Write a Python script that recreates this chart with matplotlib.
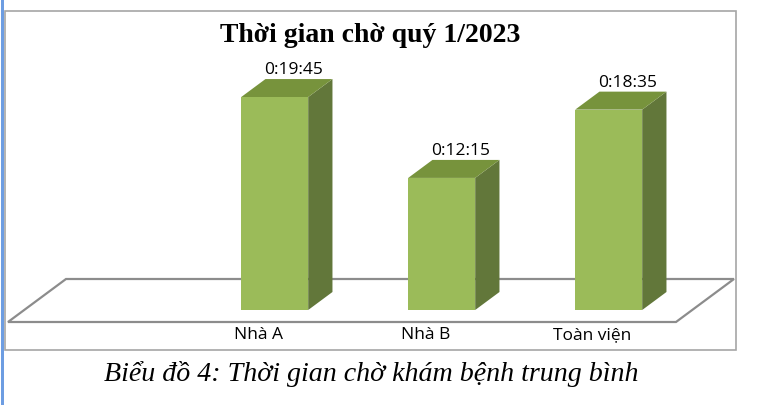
import matplotlib.pyplot as plt
from matplotlib.patches import Polygon, Rectangle

# data
categories = ['', 'Nhà A', 'Nhà B', 'Toàn viện']
values = [None, '0:19:45', '0:12:15', '0:18:35']
title = 'Thời gian chờ quý 1/2023'
caption = 'Biểu đồ 4: Thời gian chờ khám bệnh trung bình'


def to_sec(t):
    h, m, s = [int(p) for p in t.split(':')]
    return h * 3600 + m * 60 + s


W, H = 763, 405
fig = plt.figure(figsize=(W / 100, H / 100), dpi=100)

# axes covering the whole figure; x = category slot, y = seconds
ax = fig.add_axes([0, 0, 1, 1])
px_per_cat = 167.0
x0_px = 91.5            # centre of slot 0 on the floor's front edge
px_per_sec = 0.1797
base_px = 310           # pixel row (from top) of value 0
ax.set_xlim((0 - x0_px) / px_per_cat, (W - x0_px) / px_per_cat)
ax.set_ylim((base_px - H) / px_per_sec, base_px / px_per_sec)
ax.axis('off')

# oblique depth offsets, converted to data units
dx = 58 / px_per_cat        # full floor depth, x
dy = 43 / px_per_sec        # full floor depth, y
d_front, d_back = 12 / 43, 30 / 43
bar_w = 67 / px_per_cat
floor_front = -12 / px_per_sec

n = len(categories)
floor = Polygon([(-0.5, floor_front), (n - 0.5, floor_front),
                 (n - 0.5 + dx, floor_front + dy), (-0.5 + dx, floor_front + dy)],
                closed=True, facecolor='white', edgecolor='#8c8c8c', lw=1.6, zorder=1)
ax.add_patch(floor)

c_front, c_top, c_side = '#9bbb59', '#77933c', '#62773a'
for i, (cat, v) in enumerate(zip(categories, values)):
    if v is None:
        continue
    h = to_sec(v)
    xl = i + dx * d_front - bar_w / 2
    xr = xl + bar_w
    yb = floor_front + dy * d_front
    yt = yb + h
    ddx = dx * (d_back - d_front)
    ddy = dy * (d_back - d_front)
    ax.add_patch(Polygon([(xr, yb), (xr + ddx, yb + ddy), (xr + ddx, yt + ddy), (xr, yt)],
                         facecolor=c_side, edgecolor='none', zorder=3))
    ax.add_patch(Polygon([(xl, yt), (xr, yt), (xr + ddx, yt + ddy), (xl + ddx, yt + ddy)],
                         facecolor=c_top, edgecolor='none', zorder=3))
    ax.bar(xl, h, width=bar_w, bottom=yb, align='edge', color=c_front, zorder=4)
    ax.text(xl + bar_w / 2 + 19 / px_per_cat, yt + ddy + 1 / px_per_sec, v,
            ha='center', va='bottom', fontsize=12.5, family='Open Sans', zorder=5)

for i, cat in enumerate(categories):
    ax.text(i, floor_front - 5 / px_per_sec, cat, ha='center', va='top',
            fontsize=12.5, family='Open Sans')

# chart frame and page margin line
fig.patches.append(Rectangle((5 / W, 1 - 350 / H), 731 / W, 339 / H,
                             transform=fig.transFigure, fill=False,
                             edgecolor='#a6a6a6', lw=1.2))
fig.patches.append(Rectangle((1 / W, 0), 2.5 / W, 1, transform=fig.transFigure,
                             facecolor='#6d9de2', edgecolor='none'))

fig.text(370 / W, 1 - 36 / H, title, ha='center', va='center',
         fontsize=20, fontweight='bold', family='Liberation Serif')
fig.text(371 / W, 1 - 374 / H, caption, ha='center', va='center',
         fontsize=20.2, style='italic', family='Liberation Serif')

fig.savefig('out.png', dpi=100)
